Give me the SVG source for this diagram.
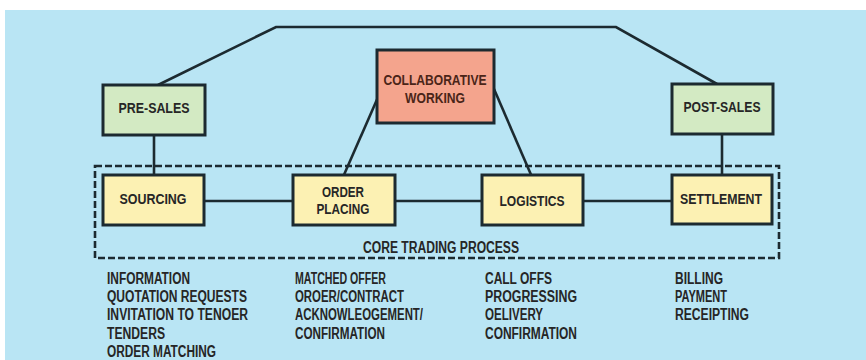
<svg xmlns="http://www.w3.org/2000/svg" width="866" height="360" viewBox="0 0 866 360">
<style>
.bx{stroke:#1c2a30;stroke-width:3}
.g{fill:#d3eac3}
.y{fill:#fcf1b3}
.r{fill:#f4a48d}
.ln{stroke:#1c2a30;stroke-width:2.6;fill:none}
.t{font-family:"Liberation Sans",Arial,sans-serif;font-weight:bold;fill:#262626}
.lb{font-size:15px;text-anchor:middle}
.sm{font-size:16px}
</style>
<rect x="5" y="10" width="861" height="350" fill="#b9e5f4"/>
<g id="connectors">
<polyline class="ln" points="158,85 276,27 616,27 717,84"/>
<line class="ln" x1="154" y1="135" x2="154" y2="175"/>
<line class="ln" x1="722" y1="134" x2="722" y2="175"/>
<line class="ln" x1="379" y1="95" x2="343" y2="177"/>
<line class="ln" x1="494" y1="89" x2="532" y2="177"/>
<line class="ln" x1="204" y1="201" x2="293" y2="201"/>
<line class="ln" x1="395" y1="201" x2="482" y2="201"/>
<line class="ln" x1="583" y1="201" x2="672" y2="201"/>
</g>
<g id="core">
<rect x="95" y="166" width="684" height="92" fill="none" stroke="#1c2a30" stroke-width="2.6" stroke-dasharray="7,3"/>
<text class="t" x="441" y="253" font-size="16" text-anchor="middle" textLength="156" lengthAdjust="spacingAndGlyphs">CORE TRADING PROCESS</text>
</g>
<g id="presales">
<rect class="bx g" x="103" y="85" width="102" height="50"/>
<text class="t lb" x="154" y="113" textLength="71" lengthAdjust="spacingAndGlyphs">PRE-SALES</text>
</g>
<g id="collab">
<rect class="bx r" x="377" y="50" width="117" height="73"/>
<text class="t lb" x="435" y="85" textLength="103" lengthAdjust="spacingAndGlyphs" style="fill:#4a2418">COLLABORATIVE</text>
<text class="t lb" x="435" y="103" textLength="60" lengthAdjust="spacingAndGlyphs" style="fill:#4a2418">WORKING</text>
</g>
<g id="postsales">
<rect class="bx g" x="672" y="84" width="101" height="50"/>
<text class="t lb" x="722" y="112" textLength="77" lengthAdjust="spacingAndGlyphs">POST-SALES</text>
</g>
<g id="sourcing">
<rect class="bx y" x="103" y="175" width="101" height="50"/>
<text class="t lb" x="153" y="204" textLength="67" lengthAdjust="spacingAndGlyphs">SOURCING</text>
</g>
<g id="orderplacing">
<rect class="bx y" x="293" y="175" width="102" height="50"/>
<text class="t lb" x="343" y="197" textLength="42" lengthAdjust="spacingAndGlyphs">ORDER</text>
<text class="t lb" x="343" y="214" textLength="53" lengthAdjust="spacingAndGlyphs">PLACING</text>
</g>
<g id="logistics">
<rect class="bx y" x="482" y="175" width="101" height="50"/>
<text class="t lb" x="532" y="206" textLength="65" lengthAdjust="spacingAndGlyphs">LOGISTICS</text>
</g>
<g id="settlement">
<rect class="bx y" x="672" y="175" width="100" height="49"/>
<text class="t lb" x="721" y="204" textLength="82" lengthAdjust="spacingAndGlyphs">SETTLEMENT</text>
</g>
<g id="notes" class="t sm">
<text x="107" y="284" textLength="83" lengthAdjust="spacingAndGlyphs">INFORMATION</text>
<text x="107" y="302" textLength="140" lengthAdjust="spacingAndGlyphs">QUOTATION REQUESTS</text>
<text x="107" y="320" textLength="141" lengthAdjust="spacingAndGlyphs">INVITATION TO TENOER</text>
<text x="107" y="339" textLength="58" lengthAdjust="spacingAndGlyphs">TENDERS</text>
<text x="107" y="357" textLength="109" lengthAdjust="spacingAndGlyphs">ORDER MATCHING</text>
<text x="295" y="284" textLength="91" lengthAdjust="spacingAndGlyphs">MATCHED OFFER</text>
<text x="295" y="302" textLength="109" lengthAdjust="spacingAndGlyphs">OROER/CONTRACT</text>
<text x="295" y="320" textLength="128" lengthAdjust="spacingAndGlyphs">ACKNOWLEOGEMENT/</text>
<text x="295" y="339" textLength="90" lengthAdjust="spacingAndGlyphs">CONFIRMATION</text>
<text x="485" y="284" textLength="67" lengthAdjust="spacingAndGlyphs">CALL OFFS</text>
<text x="485" y="302" textLength="92" lengthAdjust="spacingAndGlyphs">PROGRESSING</text>
<text x="485" y="320" textLength="58" lengthAdjust="spacingAndGlyphs">OELIVERY</text>
<text x="485" y="339" textLength="92" lengthAdjust="spacingAndGlyphs">CONFIRMATION</text>
<text x="675" y="284" textLength="48" lengthAdjust="spacingAndGlyphs">BILLING</text>
<text x="675" y="302" textLength="52" lengthAdjust="spacingAndGlyphs">PAYMENT</text>
<text x="675" y="320" textLength="74" lengthAdjust="spacingAndGlyphs">RECEIPTING</text>
</g>
</svg>
